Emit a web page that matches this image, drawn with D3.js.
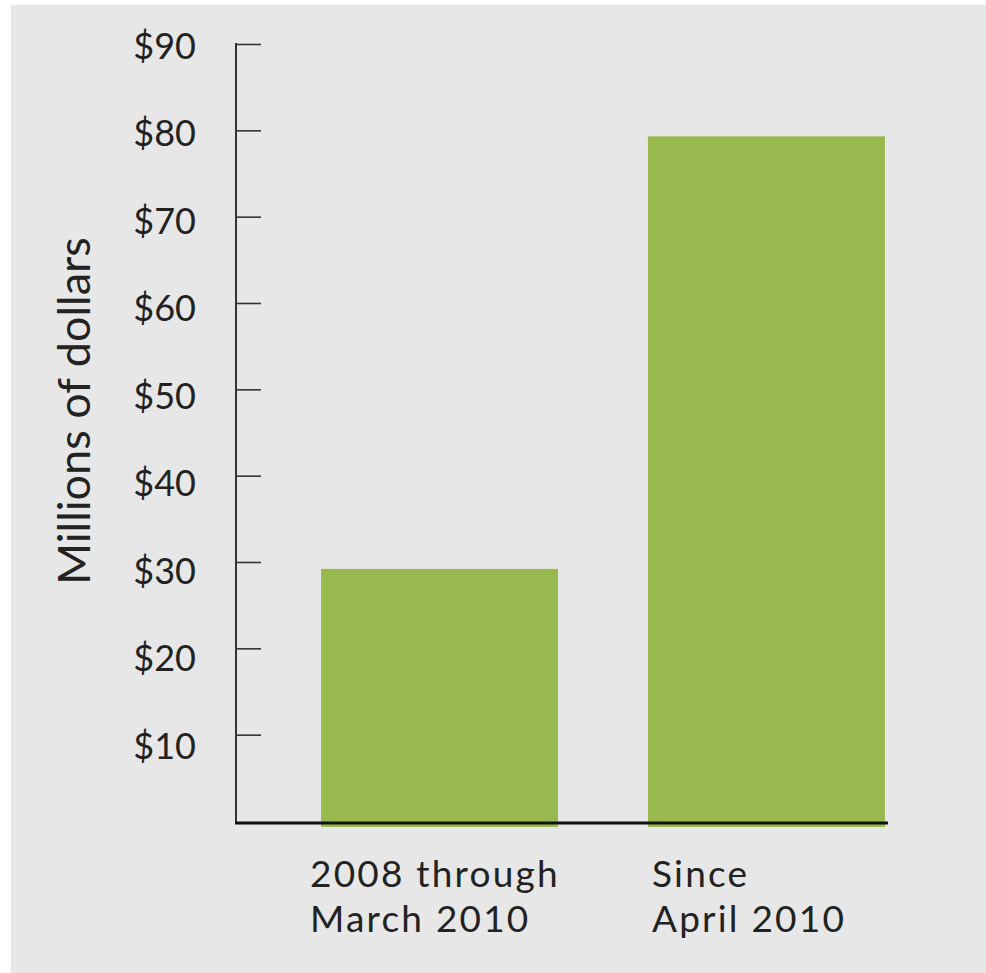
<!DOCTYPE html>
<html>
<head>
<meta charset="utf-8">
<script src="https://cdn.jsdelivr.net/npm/d3@7"></script>
<style>
  html, body { margin: 0; padding: 0; background: #ffffff; }
  svg { display: block; }
</style>
</head>
<body>
<svg id="chart" width="986" height="973"></svg>
<script>
// ---- data ----
const categories = ["2008 through\nMarch 2010", "Since\nApril 2010"];
const values = [29.2, 79.3];
const tickValues = [10, 20, 30, 40, 50, 60, 70, 80, 90];
const tickLabels = ["$10", "$20", "$30", "$40", "$50", "$60", "$70", "$80", "$90"];
const axisTitle = "Millions of dollars";

const svg = d3.select("#chart");
const W = 986, H = 973;

// background panel
svg.append("rect").attr("x", 11).attr("y", 5).attr("width", W - 11).attr("height", H - 5).attr("fill", "#e7e7e7");

const y = d3.scaleLinear().domain([0, 90]).range([821, 44]);
const yLabel = d3.scaleLinear().domain([10, 90]).range([746, 46]);
const x = d3.scaleBand().domain(categories).range([321, 885]).paddingInner(0.275).paddingOuter(0);

const axisX = 236;

// bars
svg.selectAll("rect.bar").data(values).enter().append("rect")
  .attr("class", "bar")
  .attr("x", (d, i) => x(categories[i]))
  .attr("width", x.bandwidth())
  .attr("y", d => y(d))
  .attr("height", d => y(0) + 6 - y(d))
  .attr("fill", "#98b94d");

// y axis with inward ticks
const yAxis = d3.axisRight(y).tickValues(tickValues).tickSize(25).tickFormat("");
const gAxis = svg.append("g").attr("transform", `translate(${axisX},0)`).call(yAxis);
gAxis.select(".domain").remove();
gAxis.selectAll(".tick line").attr("stroke", "#333").attr("stroke-width", 1.6);
svg.append("line").attr("x1", axisX).attr("x2", axisX).attr("y1", y(90) - 1).attr("y2", y(0) + 2)
  .attr("stroke", "#333").attr("stroke-width", 2);

// baseline
svg.append("line").attr("x1", axisX - 1).attr("x2", x(categories[1]) + x.bandwidth() + 3)
  .attr("y1", y(0) + 2).attr("y2", y(0) + 2)
  .attr("stroke", "#111").attr("stroke-width", 3);

// tick labels
svg.selectAll("text.tl").data(tickValues).enter().append("text")
  .attr("class", "tl")
  .attr("x", 196)
  .attr("y", d => yLabel(d))
  .attr("dy", "0.36em")
  .attr("text-anchor", "end")
  .attr("font-family", "Lato, sans-serif")
  .attr("font-size", 36)
  .attr("fill", "#222")
  .text((d, i) => tickLabels[i]);

// axis title
svg.append("text")
  .attr("transform", `translate(90,411) rotate(-90)`)
  .attr("text-anchor", "middle")
  .attr("font-family", "Lato, sans-serif")
  .attr("font-size", 45)
  .attr("fill", "#222")
  .text(axisTitle);

// category labels
const labelOffsets = [-11, 4];
categories.forEach((c, i) => {
  const t = svg.append("text")
    .attr("font-family", "Lato, sans-serif")
    .attr("font-size", 37)
    .attr("letter-spacing", 2.2)
    .attr("fill", "#222");
  c.split("\n").forEach((line, j) => {
    t.append("tspan")
      .attr("x", x(c) + labelOffsets[i])
      .attr("y", 887 + j * 45)
      .text(line);
  });
});
</script>
</body>
</html>
